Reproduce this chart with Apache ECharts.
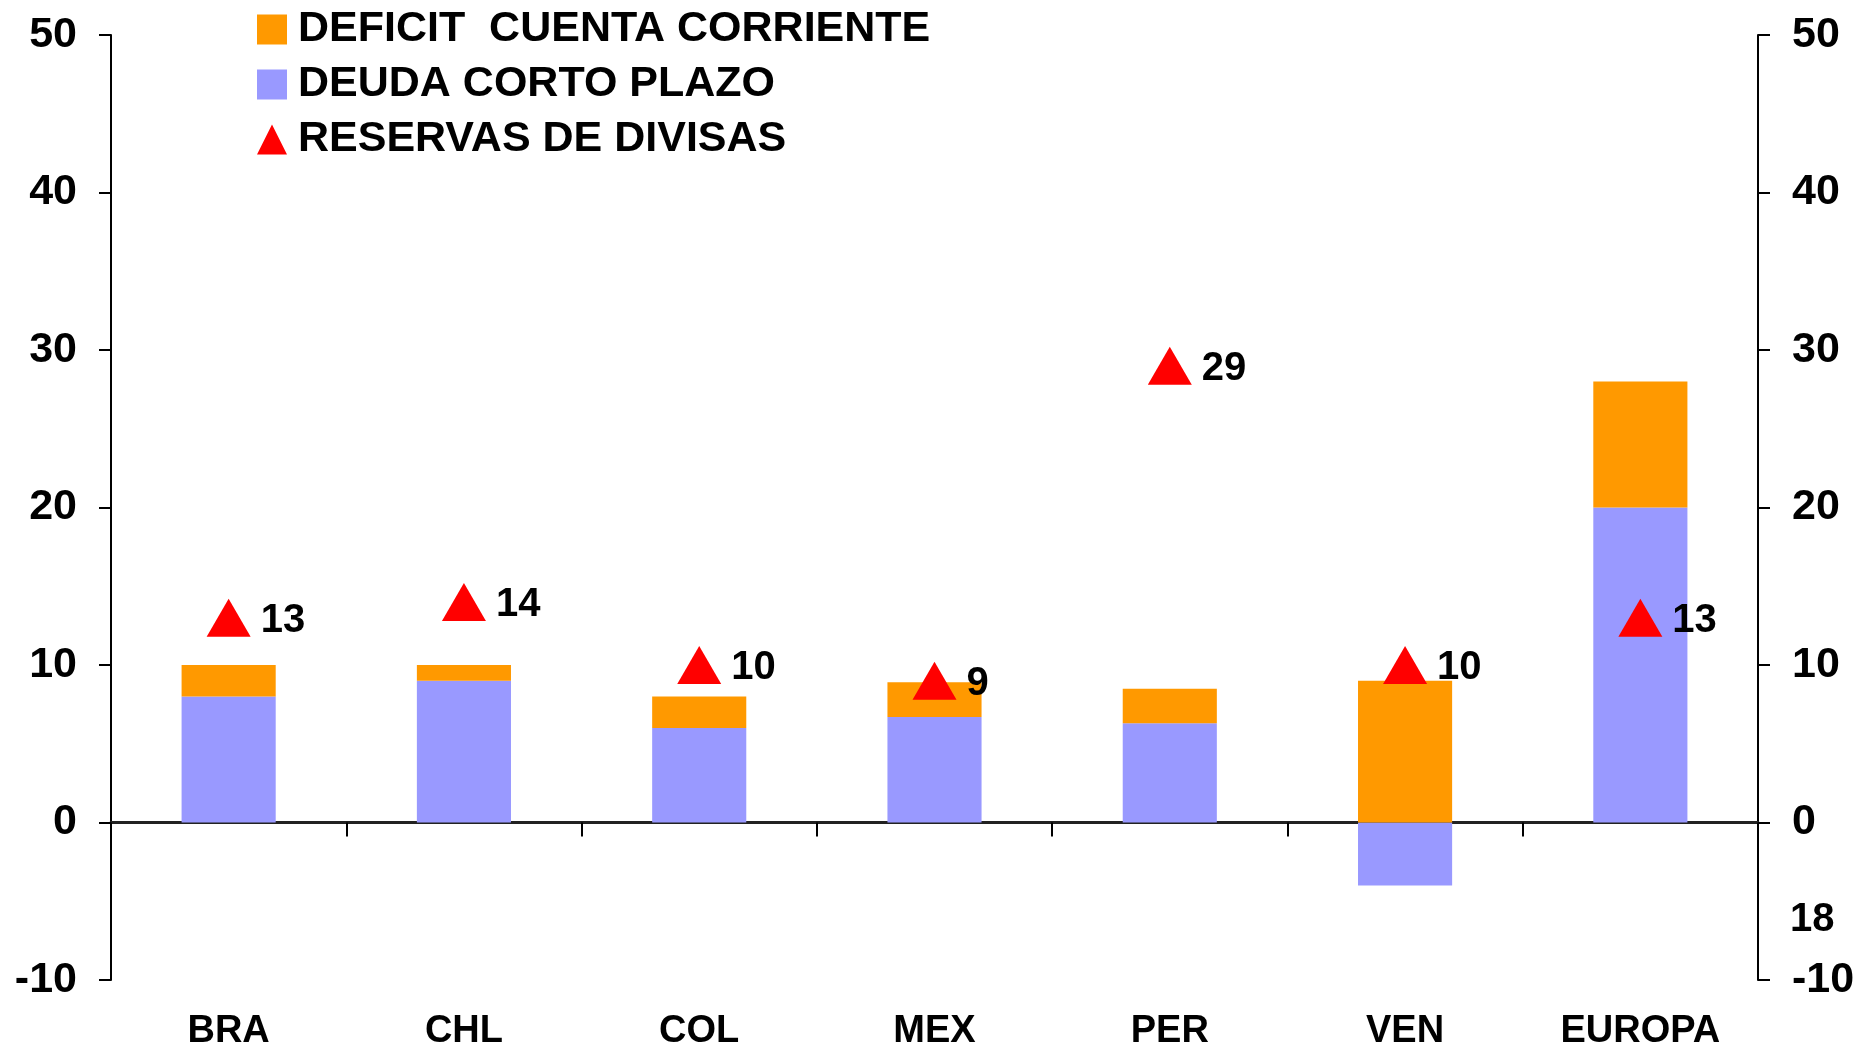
<!DOCTYPE html>
<html>
<head>
<meta charset="utf-8">
<script src="https://cdn.jsdelivr.net/npm/echarts@6/dist/echarts.min.js"></script>
<style>
  html, body { margin: 0; padding: 0; background: #fff; }
  #chart { width: 1858px; height: 1045px; }
</style>
</head>
<body>
<div id="chart"></div>
<script>
const categories = ['BRA', 'CHL', 'COL', 'MEX', 'PER', 'VEN', 'EUROPA']
const deudaCorto = [8, 9, 6, 6.7, 6.3, -4, 20]
const deficitCC = [2, 1, 2, 2.2, 2.2, 9, 8]
const reservas = [13, 14, 10, 9, 29, 10, 13]
const yTicks = { min: -10, max: 50, interval: 10 }

const font = 'Liberation Sans, Arial, sans-serif'
const colors = ['#FF9900', '#9999FF', '#FF0000']

const chart = echarts.init(document.getElementById('chart'))
const yAxisBase = {
  type: 'value',
  min: yTicks.min,
  max: yTicks.max,
  interval: yTicks.interval,
  splitLine: { show: false },
  axisLine: { show: true, onZero: false, lineStyle: { color: '#000', width: 2 } },
  axisTick: { show: true, inside: false, length: 12, lineStyle: { color: '#000', width: 2 } },
  axisLabel: { color: '#000', fontFamily: font, fontWeight: 'bold', fontSize: 43, margin: 34 }
}

chart.setOption({
  animation: false,
  legend: {
    orient: 'vertical',
    left: 252,
    top: 3,
    itemWidth: 30,
    itemHeight: 30,
    itemGap: 12,
    data: [
      { name: 'DEFICIT  CUENTA CORRIENTE', icon: 'rect', itemStyle: {} },
      { name: 'DEUDA CORTO PLAZO', icon: 'rect' },
      { name: 'RESERVAS DE DIVISAS', icon: 'triangle' }
    ],
    textStyle: {
      color: '#000', fontFamily: font, fontWeight: 'bold', fontSize: 43,
      padding: [0, 0, 0, 6]
    }
  },
  grid: { left: 111, right: 100, top: 35, bottom: 65, outerBoundsMode: 'none', containLabel: false },
  xAxis: {
    type: 'category',
    data: categories,
    axisLine: { onZero: true, lineStyle: { color: '#222', width: 3 } },
    axisTick: { show: true, length: 14, lineStyle: { color: '#000', width: 2 } },
    axisLabel: {
      color: '#000', fontFamily: font, fontWeight: 'bold', fontSize: 38, margin: 33
    }
  },
  yAxis: [
    Object.assign({}, yAxisBase, { position: 'left' }),
    Object.assign({}, yAxisBase, { position: 'right' })
  ],
  series: [
    {
      name: 'DEUDA CORTO PLAZO',
      type: 'bar',
      stack: 'total',
      barWidth: '40%',
      itemStyle: { color: colors[1] },
      data: deudaCorto
    },
    {
      name: 'DEFICIT  CUENTA CORRIENTE',
      type: 'bar',
      stack: 'total',
      barWidth: '40%',
      itemStyle: { color: colors[0] },
      data: deficitCC
    },
    {
      name: 'RESERVAS DE DIVISAS',
      type: 'scatter',
      symbol: 'triangle',
      symbolSize: [44, 38],
      z: 5,
      itemStyle: { color: colors[2], opacity: 1 },
      label: {
        show: true,
        position: 'right',
        distance: 10,
        offset: [0, 3],
        color: '#000',
        fontFamily: font,
        fontWeight: 'bold',
        fontSize: 40
      },
      data: reservas
    }
  ],
  graphic: [
    {
      type: 'text',
      left: 1790,
      top: 900,
      style: { text: '18', fill: '#000', font: 'bold 40px ' + font }
    }
  ]
})
</script>
</body>
</html>
